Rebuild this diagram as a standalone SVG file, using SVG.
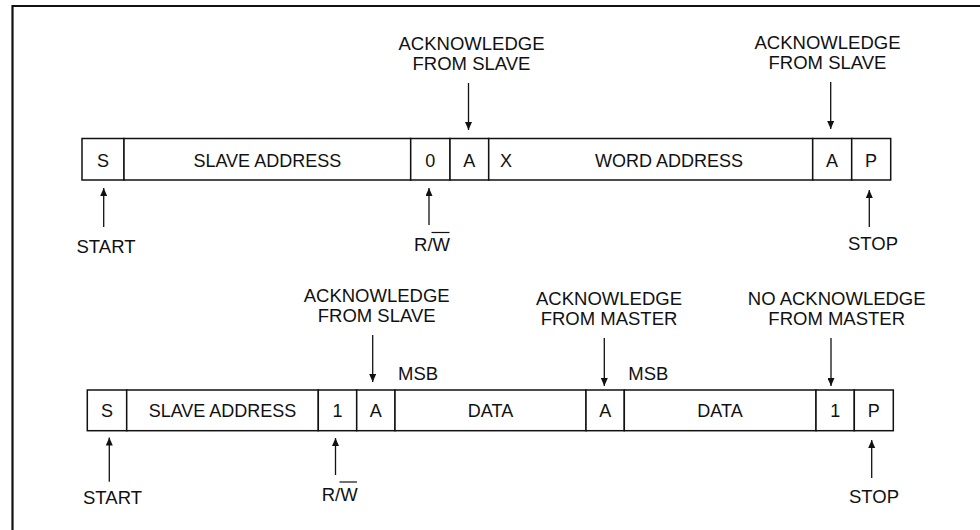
<svg xmlns="http://www.w3.org/2000/svg" width="980" height="530" viewBox="0 0 980 530">
<style>
text { font-family: "Liberation Sans", Arial, sans-serif; fill: #111; }
.lbl { font-size: 18.5px; text-anchor: middle; }
.cell { font-size: 18px; text-anchor: middle; }
.box { fill: #fff; stroke: #111; stroke-width: 1.5; }
.arr { stroke: #111; stroke-width: 1.3; fill: none; marker-end: url(#ah); }
.frame { stroke: #111; stroke-width: 2.2; fill: none; }
.ov { stroke: #111; stroke-width: 1.2; }
</style>
<defs>
<marker id="ah" markerUnits="userSpaceOnUse" markerWidth="8" markerHeight="7" viewBox="0 0 8 7" refX="8" refY="3.5" orient="auto">
<path d="M0,0 L8,3.5 L0,7 z" fill="#111"/>
</marker>
</defs>
<rect width="980" height="530" fill="#fff"/>
<path class="frame" d="M12.5,530 L12.5,6 L980,6"/>

<!-- Row 1 (write) -->
<g id="r1-s"><rect class="box" x="82" y="138.5" width="42" height="41.5"/><text class="cell" x="103" y="166.5">S</text></g>
<g id="r1-slave"><rect class="box" x="124" y="138.5" width="286.7" height="41.5"/><text class="cell" x="267.3" y="166.5">SLAVE ADDRESS</text></g>
<g id="r1-rw"><rect class="box" x="410.7" y="138.5" width="39.3" height="41.5"/><text class="cell" x="430.3" y="166.5">0</text></g>
<g id="r1-ack1"><rect class="box" x="450" y="138.5" width="38.7" height="41.5"/><text class="cell" x="469.3" y="166.5">A</text></g>
<g id="r1-word"><rect class="box" x="488.7" y="138.5" width="324" height="41.5"/><text class="cell" x="506" y="166.5">X</text><text class="cell" x="669" y="166.5">WORD ADDRESS</text></g>
<g id="r1-ack2"><rect class="box" x="812.7" y="138.5" width="39" height="41.5"/><text class="cell" x="832" y="166.5">A</text></g>
<g id="r1-p"><rect class="box" x="851.7" y="138.5" width="39" height="41.5"/><text class="cell" x="871" y="166.5">P</text></g>

<g id="r1-lbl-ack1"><text class="lbl" x="471.5" y="49.5">ACKNOWLEDGE</text><text class="lbl" x="471.5" y="69.5">FROM SLAVE</text></g>
<g id="r1-lbl-ack2"><text class="lbl" x="827.5" y="49.3">ACKNOWLEDGE</text><text class="lbl" x="827.5" y="69.3">FROM SLAVE</text></g>
<g id="r1-lbl-start"><text class="lbl" x="106" y="253">START</text></g>
<g id="r1-lbl-rw"><text class="lbl" x="432" y="250.5">R/W</text><line class="ov" x1="431.5" y1="232.5" x2="449.5" y2="232.5"/></g>
<g id="r1-lbl-stop"><text class="lbl" x="873" y="250">STOP</text></g>

<!-- Row 2 (read) -->
<g id="r2-s"><rect class="box" x="87.3" y="390" width="39.4" height="40.7"/><text class="cell" x="107" y="416.5">S</text></g>
<g id="r2-slave"><rect class="box" x="126.7" y="390" width="191.6" height="40.7"/><text class="cell" x="222.5" y="416.5">SLAVE ADDRESS</text></g>
<g id="r2-rw"><rect class="box" x="318.3" y="390" width="38.4" height="40.7"/><text class="cell" x="337.5" y="416.5">1</text></g>
<g id="r2-ack1"><rect class="box" x="356.7" y="390" width="38.3" height="40.7"/><text class="cell" x="375.8" y="416.5">A</text></g>
<g id="r2-data1"><rect class="box" x="395" y="390" width="191" height="40.7"/><text class="cell" x="490.5" y="416.5">DATA</text></g>
<g id="r2-ack2"><rect class="box" x="586" y="390" width="38.3" height="40.7"/><text class="cell" x="605.2" y="416.5">A</text></g>
<g id="r2-data2"><rect class="box" x="624.3" y="390" width="191.7" height="40.7"/><text class="cell" x="720" y="416.5">DATA</text></g>
<g id="r2-nack"><rect class="box" x="816" y="390" width="38.3" height="40.7"/><text class="cell" x="835.2" y="416.5">1</text></g>
<g id="r2-p"><rect class="box" x="854.3" y="390" width="39" height="40.7"/><text class="cell" x="873.8" y="416.5">P</text></g>

<g id="r2-lbl-ack1"><text class="lbl" x="376.7" y="302">ACKNOWLEDGE</text><text class="lbl" x="376.7" y="322">FROM SLAVE</text></g>
<g id="r2-lbl-msb1"><text class="lbl" x="398" y="380" style="text-anchor:start">MSB</text></g>
<g id="r2-lbl-ack2"><text class="lbl" x="609" y="304.5">ACKNOWLEDGE</text><text class="lbl" x="609" y="324.5">FROM MASTER</text></g>
<g id="r2-lbl-msb2"><text class="lbl" x="628.3" y="379.5" style="text-anchor:start">MSB</text></g>
<g id="r2-lbl-nack"><text class="lbl" x="836.7" y="304.5">NO ACKNOWLEDGE</text><text class="lbl" x="836.7" y="324.5">FROM MASTER</text></g>
<g id="r2-lbl-start"><text class="lbl" x="112.5" y="504">START</text></g>
<g id="r2-lbl-rw"><text class="lbl" x="339.7" y="500.5">R/W</text><line class="ov" x1="339.5" y1="482" x2="357" y2="482"/></g>
<g id="r2-lbl-stop"><text class="lbl" x="874" y="502.5">STOP</text></g>

<g id="connectors">
<line class="arr" x1="468.5" y1="83" x2="468.5" y2="130"/>
<line class="arr" x1="830.7" y1="82" x2="830.7" y2="129"/>
<line class="arr" x1="103.7" y1="227" x2="103.7" y2="188"/>
<line class="arr" x1="429" y1="225" x2="429" y2="188"/>
<line class="arr" x1="869.3" y1="227" x2="869.3" y2="190"/>
<line class="arr" x1="372.7" y1="335" x2="372.7" y2="382"/>
<line class="arr" x1="604.3" y1="338" x2="604.3" y2="386"/>
<line class="arr" x1="831" y1="338" x2="831" y2="386"/>
<line class="arr" x1="109.3" y1="481.7" x2="109.3" y2="437.5"/>
<line class="arr" x1="335.5" y1="475" x2="335.5" y2="438"/>
<line class="arr" x1="871.7" y1="478" x2="871.7" y2="440"/>
</g>
</svg>
